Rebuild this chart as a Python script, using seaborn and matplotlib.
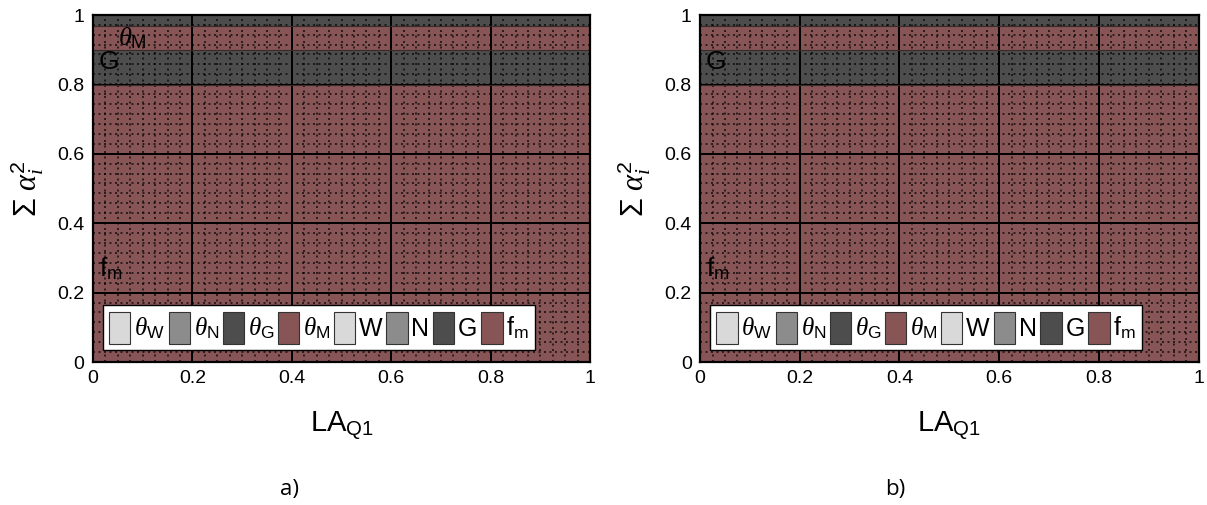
import numpy as np
import pandas as pd
import matplotlib
matplotlib.use('Agg')
import matplotlib.pyplot as plt
from matplotlib.patches import Patch
from matplotlib.ticker import MultipleLocator
import seaborn as sns

# band data: x range and stacked boundaries (bottom -> top) for each panel
x_vals = [0, 1]
band_names = ['f_m', 'G', 'theta_M', 'theta_G']
bounds_a = [0.0, 0.80, 0.90, 0.97, 1.0]
bounds_b = [0.0, 0.80, 0.90, 0.97, 1.0]

legend_labels = [r'$\theta_{\rm W}$', r'$\theta_{\rm N}$', r'$\theta_{\rm G}$', r'$\theta_{\rm M}$',
                 'W', 'N', 'G', r'f$_{\rm m}$']
legend_colors = ['#d9d9d9', '#8c8c8c', '#4d4d4d', '#875556',
                 '#d9d9d9', '#8c8c8c', '#4d4d4d', '#875556']
band_colors = {'f_m': '#875556', 'G': '#4d4d4d', 'theta_M': '#875556', 'theta_G': '#4d4d4d'}

tick_vals = [0, 0.2, 0.4, 0.6, 0.8, 1]
tick_labels = ['0', '0.2', '0.4', '0.6', '0.8', '1']

sns.set_theme(style='white')
plt.rcParams['font.family'] = ['Liberation Sans', 'DejaVu Sans']
plt.rcParams['text.color'] = 'black'
plt.rcParams['mathtext.fontset'] = 'custom'
plt.rcParams['mathtext.rm'] = 'Liberation Sans'
plt.rcParams['mathtext.it'] = 'Liberation Serif:italic'
plt.rcParams['mathtext.sf'] = 'Liberation Sans'

fig = plt.figure(figsize=(12.07, 5.05), dpi=100)
ax_a = fig.add_axes([0.077, 0.283, 0.412, 0.687])
ax_b = fig.add_axes([0.580, 0.283, 0.413, 0.687])


def draw_panel(ax, bounds, labels):
    for i, name in enumerate(band_names):
        ax.fill_between(x_vals, [bounds[i]] * 2, [bounds[i + 1]] * 2,
                        color=band_colors[name], linewidth=0, zorder=0.5)
    # thin boundary lines between bands
    lines = pd.DataFrame({'x': x_vals * (len(bounds) - 2),
                          'y': np.repeat(bounds[1:-1], 2),
                          'b': np.repeat(range(len(bounds) - 2), 2)})
    sns.lineplot(data=lines, x='x', y='y', units='b', estimator=None,
                 color='#3a2a2a', linewidth=0.8, ax=ax, legend=False)
    ax.set_xlim(0, 1)
    ax.set_ylim(0, 1)
    ax.set_xticks(tick_vals)
    ax.set_xticklabels(tick_labels)
    ax.set_yticks(tick_vals)
    ax.set_yticklabels(tick_labels)
    ax.xaxis.set_minor_locator(MultipleLocator(0.025))
    ax.yaxis.set_minor_locator(MultipleLocator(0.0286))
    ax.grid(True, which='minor', color='black', linestyle=(0, (1.3, 2.3)), linewidth=1.1, alpha=0.85)
    ax.grid(True, which='major', color='black', linestyle='-', linewidth=1.4)
    ax.tick_params(which='both', length=0, labelsize=14, colors='black', pad=6)
    for s in ax.spines.values():
        s.set_color('black')
        s.set_linewidth(1.6)
    ax.set_xlabel(r'LA$_{\rm Q1}$', fontsize=21, color='black', labelpad=16)
    ax.set_ylabel(r'$\Sigma\ \alpha_i^2$', fontsize=22, color='black', labelpad=8)
    for (tx, ty, txt) in labels:
        ax.text(tx, ty, txt, fontsize=19, color='black', va='center', ha='left', zorder=5)
    handles = [Patch(facecolor=c, edgecolor='#333333', linewidth=0.8) for c in legend_colors]
    leg = ax.legend(handles, legend_labels, ncol=8, loc='lower left',
                    bbox_to_anchor=(0.02, 0.035), fontsize=18, frameon=True, fancybox=False,
                    handlelength=0.85, handleheight=1.6, handletextpad=0.15, columnspacing=0.15,
                    borderpad=0.25, borderaxespad=0, labelcolor='black')
    leg.get_frame().set_edgecolor('black')
    leg.get_frame().set_linewidth(1.0)
    leg.get_frame().set_facecolor('white')
    leg.get_frame().set_alpha(1)
    leg.set_zorder(10)


draw_panel(ax_a, bounds_a, [(0.05, 0.935, r'$\theta_{\rm M}$'), (0.012, 0.865, 'G'),
                             (0.012, 0.27, r'f$_{\rm m}$')])
draw_panel(ax_b, bounds_b, [(0.012, 0.865, 'G'), (0.012, 0.27, r'f$_{\rm m}$')])

fig.text(0.240, 0.03, 'a)', fontsize=16, family='Open Sans', ha='center', va='center')
fig.text(0.742, 0.03, 'b)', fontsize=16, family='Open Sans', ha='center', va='center')

fig.savefig('out.png', dpi=100)
